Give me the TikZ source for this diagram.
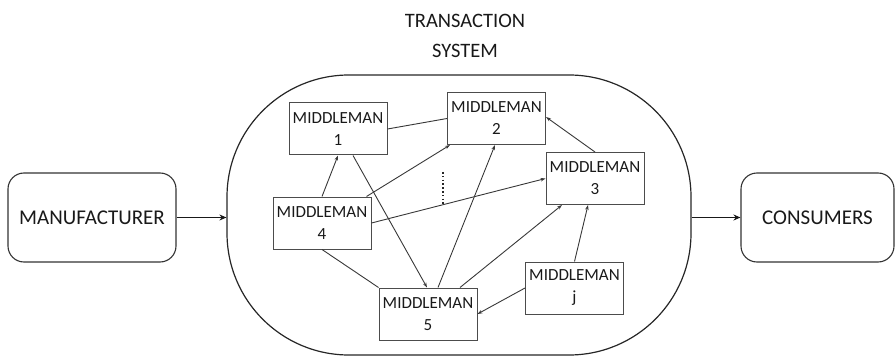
\documentclass[tikz,border=0pt]{standalone}
\usepackage{fontspec}
\setmainfont{Carlito}
\usetikzlibrary{arrows.meta}
\begin{document}
\begin{tikzpicture}[x=1pt,y=-1pt,
  mbox/.style={draw=black!70,line width=1pt,minimum width=98pt,minimum height=52pt,inner sep=0pt,align=center,text=black!90,font=\fontsize{17}{22}\selectfont},
  endbox/.style={draw=black!80,line width=1.1pt,rounded corners=16pt,minimum height=89pt,inner sep=0pt,text=black!90,font=\fontsize{21}{24}\selectfont},
  link/.style={draw=black!78,line width=0.9pt},
  arr/.style={link,-{Stealth[length=5pt,width=3.5pt]}},
  bigarr/.style={draw=black!90,line width=1.7pt,-{Stealth[length=7pt,width=6pt]}}]
\useasboundingbox (0,0) rectangle (896,358);
% transaction system
\node[draw=black!85,line width=1.2pt,rounded corners=122pt,minimum width=464pt,minimum height=280pt,inner sep=0pt] (ts) at (459,215) {};
\node[align=center,text=black!90,font=\fontsize{20.5}{30}\selectfont] (title) at (465,36) {TRANSACTION\\SYSTEM};
% end boxes
\node[endbox,minimum width=168pt] (mfr) at (92,217.5) {MANUFACTURER};
\node[endbox,minimum width=153pt] (con) at (817.5,217.5) {CONSUMERS};
% middlemen
\node[mbox] (m1) at (338,129) {MIDDLEMAN\\1};
\node[mbox] (m2) at (496.5,118.5) {MIDDLEMAN\\2};
\node[mbox] (m3) at (595,178.5) {MIDDLEMAN\\3};
\node[mbox] (m4) at (322,223) {MIDDLEMAN\\4};
\node[mbox] (m5) at (428,314) {MIDDLEMAN\\5};
\node[mbox] (mj) at (574.5,288) {MIDDLEMAN\\j};
% dotted ellipsis
\coordinate (d1) at (443,172);
\coordinate (d2) at (443,205);
\draw[black!85,line width=1.6pt,dash pattern=on 1.6pt off 2.2pt] (d1) -- (d2);
% connectors
\draw[link] (m1.east) -- (m2.west);
\draw[arr] (m4.north) -- (m1.south);
\draw[arr] ([xshift=-5pt]m4.north east) -- ([xshift=3pt]m2.south west);
\draw[arr] ([xshift=15pt]m1.south) -- ([xshift=-1pt]m5.north);
\draw[arr] (m4.east) -- (m3.west);
\draw[link] (m4.south) -- (m5.north west);
\draw[arr] ([xshift=10pt]m5.north) -- ([xshift=-1.5pt]m2.south);
\draw[arr] ([xshift=32pt]m5.north) -- ([xshift=-33pt]m3.south);
\draw[arr] (mj.north) -- ([xshift=-7pt]m3.south);
\draw[arr] (mj.west) -- (m5.east);
\draw[arr] (m3.north) -- ([yshift=1.5pt]m2.east);
% main flow
\draw[bigarr] (mfr.east) -- (mfr.east -| ts.west);
\draw[bigarr] (con.west -| ts.east) -- (con.west);
\end{tikzpicture}
\end{document}
